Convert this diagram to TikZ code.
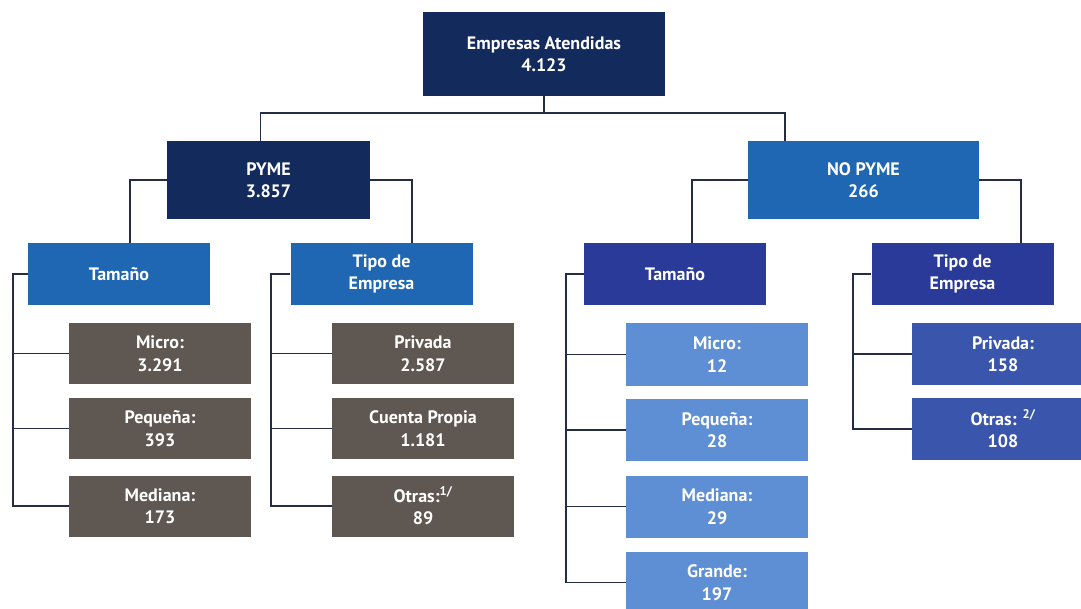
\documentclass[tikz,border=0pt]{standalone}
\usepackage{fontspec}
\setmainfont{PT Sans}
\usepackage{tikz}
\usetikzlibrary{positioning,calc}
\usepackage{xcolor}
\definecolor{navy}{HTML}{132A5C}
\definecolor{midblue}{HTML}{1F66B3}
\definecolor{indigo}{HTML}{293A98}
\definecolor{slateblue}{HTML}{3A56AC}
\definecolor{skyblue}{HTML}{5E8ED3}
\definecolor{taupe}{HTML}{5E5752}
\definecolor{linecol}{HTML}{252C46}

\begin{document}
\begin{tikzpicture}[
    x=1pt, y=-1pt,
    every node/.style={font=\fontsize{18}{22.5}\selectfont\bfseries},
    box/.style={rectangle, text=white, align=center, inner sep=0pt, minimum width=182pt, minimum height=62pt},
    link/.style={draw=linecol, line width=1.8pt}
]
    % Canvas
    \path[use as bounding box, fill=white] (0,0) rectangle (1081,609);

    % Root and first level
    \node[box, fill=navy, minimum width=242pt, minimum height=84pt] (top) at (544,54) {Empresas Atendidas\\4.123};
    \node[box, fill=navy, minimum width=203pt, minimum height=78pt] (pyme) at (268.5,180) {PYME\\3.857};
    \node[box, fill=midblue, minimum width=231pt, minimum height=78pt] (nopyme) at (863.5,180) {NO PYME\\266};

    % Second level
    \node[box, fill=midblue] (pymeTam) at (119,274) {Tamaño};
    \node[box, fill=midblue] (pymeTipo) at (381.5,274) {Tipo de\\Empresa};
    \node[box, fill=indigo] (npTam) at (675,274) {Tamaño};
    \node[box, fill=indigo] (npTipo) at (962.5,274) {Tipo de\\Empresa};

    % PYME leaves (size)
    \node[box, fill=taupe, minimum height=61pt] (pMicro) at (160,353.5) {Micro:\\3.291};
    \node[box, fill=taupe, minimum height=61pt] (pPeq) at (160,428.5) {Pequeña:\\393};
    \node[box, fill=taupe, minimum height=61pt] (pMed) at (160,506) {Mediana:\\173};

    % PYME leaves (type)
    \node[box, fill=taupe, minimum height=61pt] (pPriv) at (423,353.5) {Privada\\2.587};
    \node[box, fill=taupe, minimum height=61pt] (pCuenta) at (423,428.5) {Cuenta Propia\\1.181};
    \node[box, fill=taupe, minimum height=61pt] (pOtras) at (423,506) {Otras:\textsuperscript{1/}\\89};

    % NO PYME leaves (size)
    \node[box, fill=skyblue] (nMicro) at (717,354.5) {Micro:\\12};
    \node[box, fill=skyblue] (nPeq) at (717,430) {Pequeña:\\28};
    \node[box, fill=skyblue] (nMed) at (717,506.5) {Mediana:\\29};
    \node[box, fill=skyblue] (nGrande) at (717,582.5) {Grande:\\197};

    % NO PYME leaves (type)
    \node[box, fill=slateblue] (nPriv) at (1003,354) {Privada:\\158};
    \node[box, fill=slateblue] (nOtras) at (1003,429) {Otras: \textsuperscript{2/}\\108};

    % Root split
    \coordinate (topjoin) at ($(top.south)+(0,17)$);
    \draw[link] (top.south) -- (topjoin);
    \draw[link] ([xshift=-8pt]pyme.north) |- (topjoin) -| ([xshift=37pt]nopyme.north west);

    % First level splits
    \draw[link] (pyme.west) -| ([xshift=11pt]pymeTam.north);
    \draw[link] (pyme.east) -| ([xshift=30.5pt]pymeTipo.north);
    \draw[link] (nopyme.west) -| ([xshift=17pt]npTam.north);
    \draw[link] (nopyme.east) -| ([xshift=58.5pt]npTipo.north);

    % Rails down to the leaves
    \draw[link] (pymeTam.west) -- ++(-15,0) |- (pMed.west);
    \foreach \leaf in {pMicro,pPeq}
        \draw[link] (\leaf.west) -- ++(-56,0);

    \draw[link] (pymeTipo.west) -- ++(-19,0) |- (pOtras.west);
    \foreach \leaf in {pPriv,pCuenta}
        \draw[link] (\leaf.west) -- ++(-60,0);

    \draw[link] (npTam.west) -- ++(-18,0) |- (nGrande.west);
    \foreach \leaf in {nMicro,nPeq,nMed}
        \draw[link] (\leaf.west) -- ++(-60,0);

    \draw[link] (npTipo.west) -- ++(-18,0) |- (nOtras.west);
    \draw[link] (nPriv.west) -- ++(-59,0);

\end{tikzpicture}
\end{document}
